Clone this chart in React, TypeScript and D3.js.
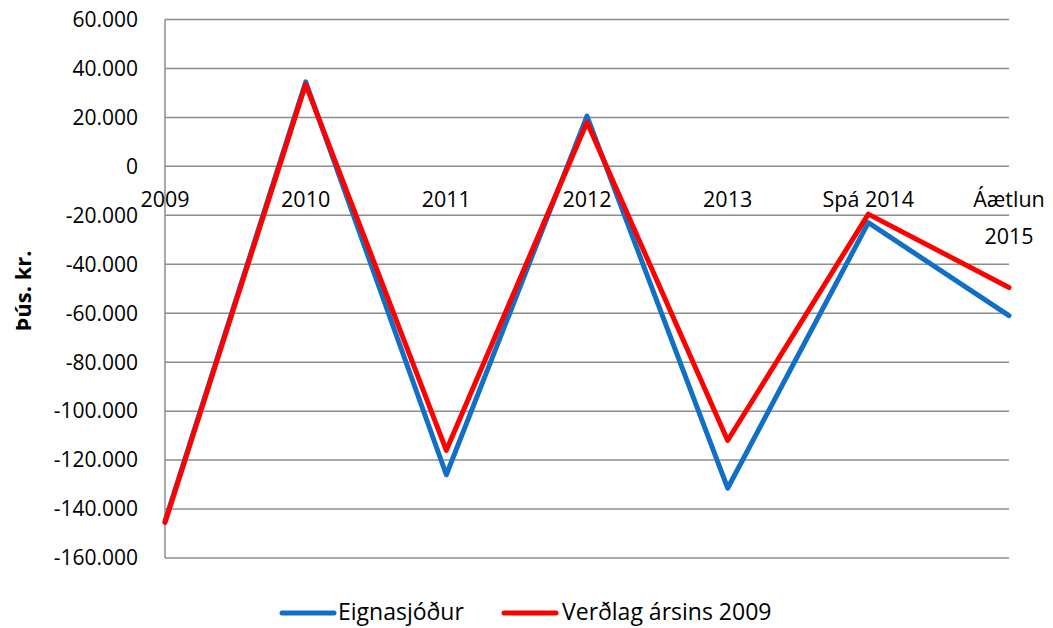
import React from "react";
import * as d3 from "d3";

const categories: string[][] = [["2009"], ["2010"], ["2011"], ["2012"], ["2013"], ["Spá 2014"], ["Áætlun", "2015"]];
const eignasjodur: number[] = [-145, 34.5, -126, 20.5, -131.5, -23, -61];
const verdlag: number[] = [-145.5, 33.5, -116, 18, -112, -19.5, -49.5];
const yTicks: number[] = [60, 40, 20, 0, -20, -40, -60, -80, -100, -120, -140, -160];

const seriesNames = ["Eignasjóður", "Verðlag ársins 2009"];
const colors = ["#1170C6", "#FF0000"];

const W = 1053;
const H = 628;
const left = 165;
const right = 1009;
const top = 19.5;
const bottom = 558;
const font = "'Open Sans', 'Liberation Sans', sans-serif";

function fmt(v: number): string {
  if (v === 0) return "0";
  const s = Math.abs(v).toString() + ".000";
  return (v < 0 ? "-" : "") + s;
}

export default function App() {
  const x = d3.scalePoint<number>().domain(d3.range(categories.length)).range([left, right]);
  const y = d3.scaleLinear().domain([-160, 60]).range([bottom, top]);
  const line = d3
    .line<number>()
    .x((_, i) => x(i) as number)
    .y((d) => y(d));
  const series = [eignasjodur, verdlag];

  return (
    <svg width={W} height={H} style={{ position: "absolute", left: 0, top: 0, background: "#fff" }}>
      {yTicks.map((t) => (
        <line key={t} x1={left} x2={right} y1={y(t)} y2={y(t)} stroke="#8c8c8c" strokeWidth={1.5} />
      ))}
      <line x1={left} x2={left} y1={top} y2={bottom} stroke="#8c8c8c" strokeWidth={1.5} />
      {yTicks.map((t) => (
        <text key={"l" + t} x={138} y={y(t)} dy="0.35em" textAnchor="end" fontFamily={font} fontSize={21} fill="#000">
          {fmt(t)}
        </text>
      ))}
      {categories.map((c, i) => (
        <text key={"c" + i} x={x(i) as number} y={y(0) + 33} textAnchor="middle" fontFamily={font} fontSize={21.5} fill="#000">
          {c.map((ln, j) => (
            <tspan key={j} x={x(i) as number} dy={j === 0 ? "0.35em" : 37}>
              {ln}
            </tspan>
          ))}
        </text>
      ))}
      <text
        transform={`translate(23, 291) rotate(-90)`}
        textAnchor="middle"
        dy="0.35em"
        fontFamily={font}
        fontSize={22}
        fontWeight="bold"
        fill="#000"
      >
        Þús. kr.
      </text>
      {series.map((s, k) => (
        <path key={"s" + k} d={line(s) as string} fill="none" stroke={colors[k]} strokeWidth={5} strokeLinejoin="round" strokeLinecap="round" />
      ))}
      {[
        { lx: 282, tx: 338 },
        { lx: 504, tx: 562 },
      ].map((p, k) => (
        <g key={"lg" + k}>
          <line x1={p.lx} x2={p.lx + 52} y1={613} y2={613} stroke={colors[k]} strokeWidth={5} strokeLinecap="round" />
          <text x={p.tx} y={612} dy="0.35em" fontFamily={font} fontSize={23} fill="#000">
            {seriesNames[k]}
          </text>
        </g>
      ))}
    </svg>
  );
}
